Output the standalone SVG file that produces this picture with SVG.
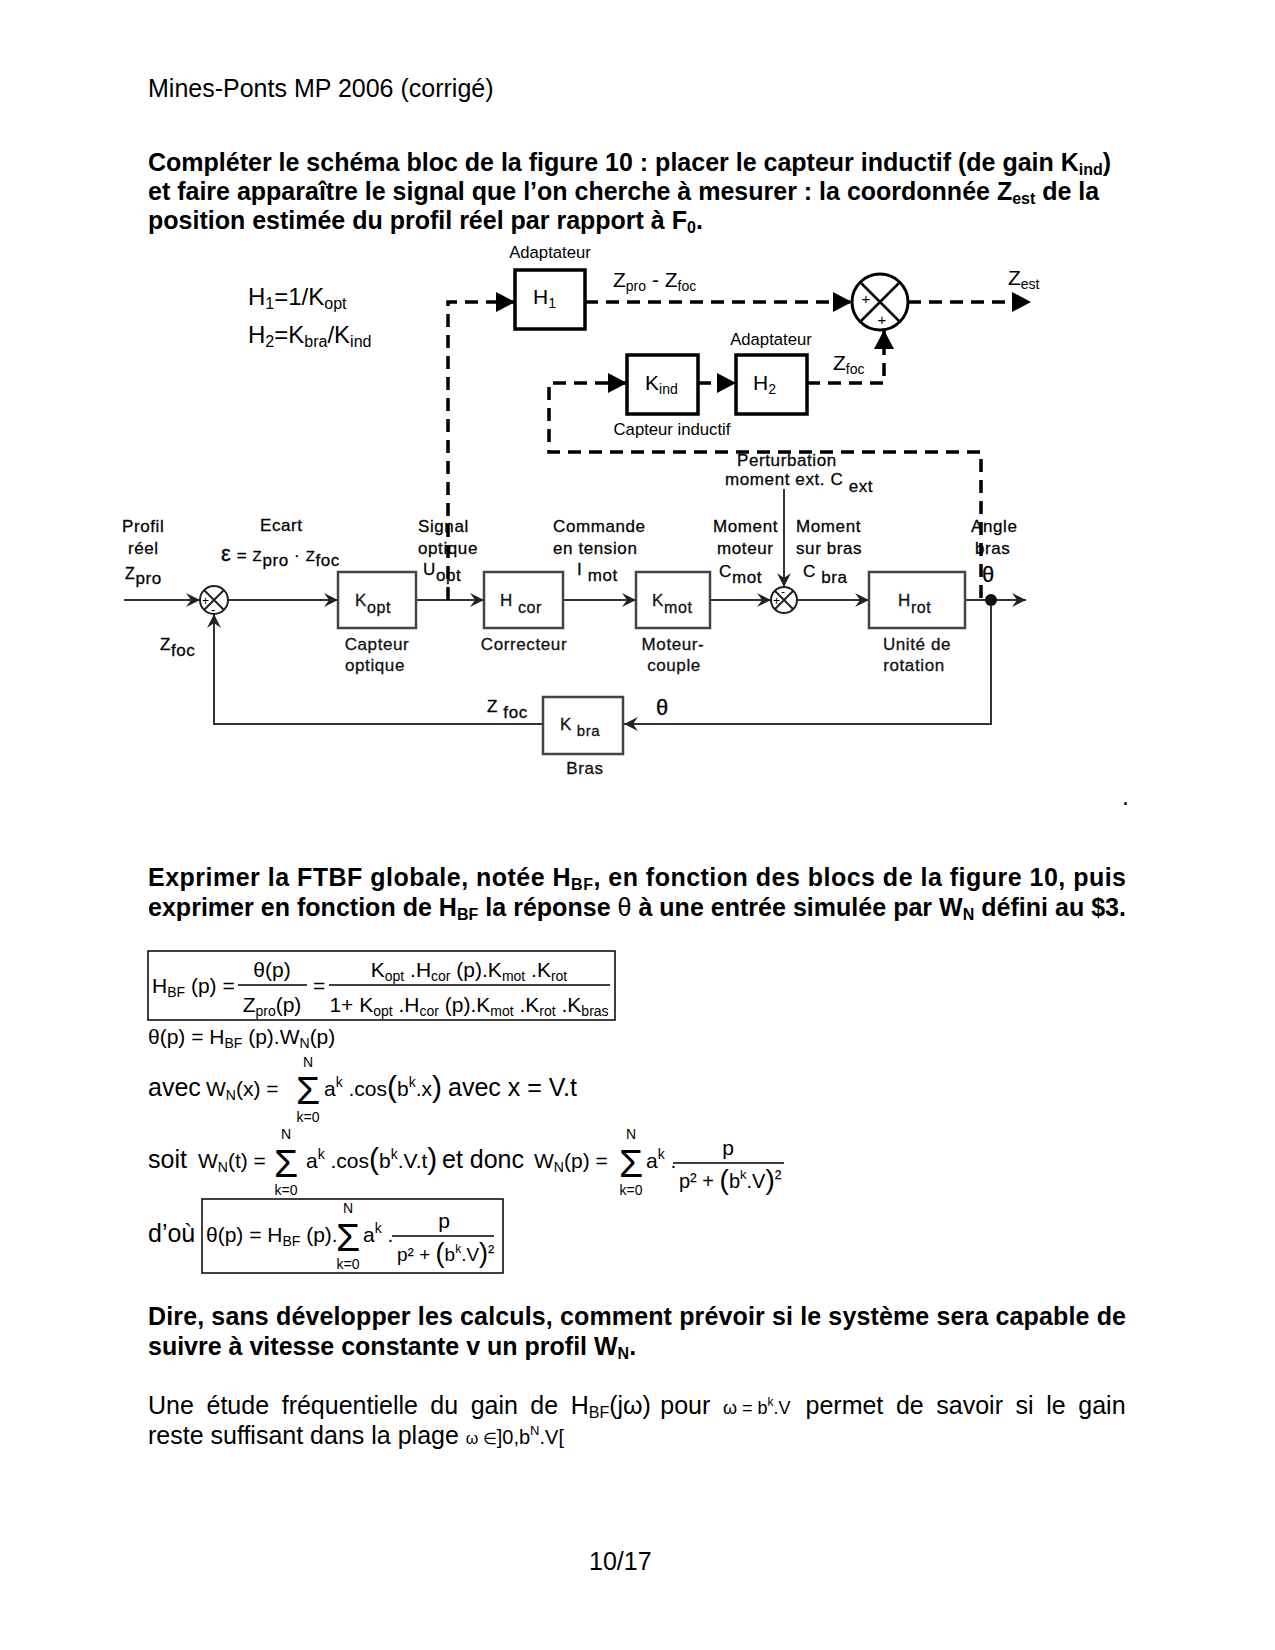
<svg xmlns="http://www.w3.org/2000/svg" width="1275" height="1650" viewBox="0 0 1275 1650">
<defs>
<style>
text { font-family: "Liberation Sans", Arial, sans-serif; fill:#000; }
.body { font-size:25px; }
.bold { font-size:25px; font-weight:bold; }
.m { font-size:21px; }
.s { font-size:14px; }
.lbl { font-size:16.7px; }
.big { font-size:24px; }
.old { font-size:17px; fill:#111; stroke:#111; stroke-width:0.3; letter-spacing:0.6px; }
.oldbox { fill:#fff; stroke:#444; stroke-width:2.5; }
.oldline { fill:none; stroke:#333; stroke-width:2; }
.newbox { fill:#fff; stroke:#000; stroke-width:3.5; }
.dash { fill:none; stroke:#000; stroke-width:3.5; stroke-dasharray:13 8; }
.frame { fill:none; stroke:#000; stroke-width:1.5; }
.rule { stroke:#000; stroke-width:1.3; }
.sig { font-size:39px; }
</style>
<marker id="aOld" markerUnits="userSpaceOnUse" markerWidth="16" markerHeight="16" refX="14" refY="7" orient="auto" overflow="visible"><path d="M0,0 L14,7 L0,14 L5,7 Z" fill="#222"/></marker>
<marker id="aNew" markerUnits="userSpaceOnUse" markerWidth="22" markerHeight="22" refX="19" refY="10" orient="auto" overflow="visible"><path d="M0,0 L19,10 L0,20 Z" fill="#000"/></marker>
</defs>
<rect x="0" y="0" width="1275" height="1650" fill="#fff"/>

<text class="body" x="148" y="97">Mines-Ponts MP 2006 (corrigé)</text>

<text class="bold" x="148" y="171">Compléter le schéma bloc de la figure 10 : placer le capteur inductif (de gain K<tspan font-size="16" dy="4">ind</tspan><tspan dy="-4">)</tspan></text>
<text class="bold" x="148" y="200">et faire apparaître le signal que l’on cherche à mesurer : la coordonnée Z<tspan font-size="16" dy="4">est</tspan><tspan dy="-4"> de la</tspan></text>
<text class="bold" x="148" y="229">position estimée du profil réel par rapport à F<tspan font-size="16" dy="4">0</tspan><tspan dy="-4">.</tspan></text>

<!-- definitions -->
<text class="big" x="248" y="305">H<tspan font-size="16" dy="4">1</tspan><tspan dy="-4">=1/K</tspan><tspan font-size="16" dy="4">opt</tspan></text>
<text class="big" x="248" y="343">H<tspan font-size="16" dy="4">2</tspan><tspan dy="-4">=K</tspan><tspan font-size="16" dy="4">bra</tspan><tspan dy="-4">/K</tspan><tspan font-size="16" dy="4">ind</tspan></text>

<!-- old diagram signal labels -->
<g id="signal-labels" class="old">
<text x="122" y="532">Profil</text>
<text x="128" y="554">réel</text>
<text x="125" y="579" font-size="16">Z<tspan font-size="17" dy="5">pro</tspan></text>
<text x="260" y="531">Ecart</text>
<text x="221" y="561"><tspan font-size="22">ε</tspan> = <tspan font-size="15">Z</tspan><tspan dy="5">pro</tspan><tspan dy="-5"> · </tspan><tspan font-size="15">Z</tspan><tspan dy="5">foc</tspan></text>
<text x="418" y="532">Signal</text>
<text x="418" y="554">optique</text>
<text x="423" y="575">U<tspan dy="6">opt</tspan></text>
<text x="553" y="532">Commande</text>
<text x="553" y="554">en tension</text>
<text x="577" y="575">I<tspan dy="6"> mot</tspan></text>
<text x="713" y="532">Moment</text>
<text x="717" y="554">moteur</text>
<text x="719" y="577">C<tspan dy="6">mot</tspan></text>
<text x="796" y="532">Moment</text>
<text x="796" y="554">sur bras</text>
<text x="803" y="577">C<tspan dy="6"> bra</tspan></text>
<text x="737" y="466">Perturbation</text>
<text x="725" y="485">moment ext. C<tspan dy="7"> ext</tspan></text>
<text x="971" y="532">Angle</text>
<text x="975" y="554">bras</text>
<text x="982" y="582" font-size="22">θ</text>
<text x="160" y="650">Z<tspan dy="6">foc</tspan></text>
<text x="487" y="712">Z<tspan dy="6"> foc</tspan></text>
<text x="656" y="715" font-size="22">θ</text>
</g>

<!-- connectors -->
<g id="connectors">
<path class="oldline" d="M124,600 L200,600" marker-end="url(#aOld)"/>
<path class="oldline" d="M228,600 L338,600" marker-end="url(#aOld)"/>
<path class="oldline" d="M416,600 L484,600" marker-end="url(#aOld)"/>
<path class="oldline" d="M563,600 L636,600" marker-end="url(#aOld)"/>
<path class="oldline" d="M710,600 L771,600" marker-end="url(#aOld)"/>
<path class="oldline" d="M784,489 L784,587" marker-end="url(#aOld)"/>
<path class="oldline" d="M797,600 L869,600" marker-end="url(#aOld)"/>
<path class="oldline" d="M965,600 L1026,600" marker-end="url(#aOld)"/>
<path class="oldline" d="M991,600 L991,724 L624,724" marker-end="url(#aOld)"/>
<path class="oldline" d="M543,724 L214,724 L214,614" marker-end="url(#aOld)"/>
<path class="dash" d="M448,600 L448,302 L515,302" marker-end="url(#aNew)"/>
<path class="dash" d="M585,302 L852,302" marker-end="url(#aNew)"/>
<path class="dash" d="M908,302 L1031,302" marker-end="url(#aNew)"/>
<path class="dash" d="M807,383 L884,383 L884,330" marker-end="url(#aNew)"/>
<path class="dash" d="M698,383 L736,383" marker-end="url(#aNew)"/>
<path class="dash" d="M981,598 L981,452 L549,452 L549,383 L627,383" marker-end="url(#aNew)"/>
</g>

<!-- old nodes -->
<g id="sum1">
<circle cx="214" cy="600" r="14" fill="#fff" stroke="#222" stroke-width="2"/>
<path d="M204,590 L224,610 M224,590 L204,610" stroke="#222" stroke-width="2"/>
<text x="202" y="605" font-size="12">+</text>
<text x="211" y="614" font-size="13">-</text>
</g>
<g id="kopt">
<rect class="oldbox" x="338" y="572" width="78" height="56"/>
<text class="old" x="355" y="606" font-size="18">K<tspan font-size="16" dy="7">opt</tspan></text>
<text class="old" x="377" y="650" text-anchor="middle">Capteur</text>
<text class="old" x="375" y="671" text-anchor="middle">optique</text>
</g>
<g id="hcor">
<rect class="oldbox" x="484" y="572" width="79" height="56"/>
<text class="old" x="500" y="606" font-size="18">H<tspan font-size="16" dy="7"> cor</tspan></text>
<text class="old" x="524" y="650" text-anchor="middle">Correcteur</text>
</g>
<g id="kmot">
<rect class="oldbox" x="636" y="572" width="74" height="56"/>
<text class="old" x="652" y="606" font-size="18">K<tspan font-size="16" dy="7">mot</tspan></text>
<text class="old" x="673" y="650" text-anchor="middle">Moteur-</text>
<text class="old" x="674" y="671" text-anchor="middle">couple</text>
</g>
<g id="sum2">
<circle cx="784" cy="600" r="13" fill="#fff" stroke="#222" stroke-width="2"/>
<path d="M775,591 L793,609 M793,591 L775,609" stroke="#222" stroke-width="2"/>
<text x="781" y="596" font-size="12">-</text>
<text x="773" y="605" font-size="12">+</text>
</g>
<g id="hrot">
<rect class="oldbox" x="869" y="572" width="96" height="56"/>
<text class="old" x="898" y="606" font-size="18">H<tspan font-size="16" dy="7">rot</tspan></text>
<text class="old" x="917" y="650" text-anchor="middle">Unité de</text>
<text class="old" x="914" y="671" text-anchor="middle">rotation</text>
</g>
<g id="junction">
<circle cx="991" cy="600" r="6" fill="#111"/>
</g>
<g id="kbra">
<rect class="oldbox" x="543" y="697" width="80" height="57"/>
<text class="old" x="560" y="730" font-size="18">K<tspan font-size="15" dy="6"> bra</tspan></text>
<text class="old" x="585" y="774" text-anchor="middle">Bras</text>
</g>

<!-- new nodes -->
<g id="h1">
<rect class="newbox" x="515" y="270" width="70" height="59"/>
<text class="m" x="533" y="304">H<tspan class="s" dy="4">1</tspan></text>
<text class="lbl" x="550" y="258" text-anchor="middle">Adaptateur</text>
</g>
<g id="kind">
<rect class="newbox" x="627" y="355" width="71" height="59"/>
<text class="m" x="645" y="390">K<tspan class="s" dy="4">ind</tspan></text>
<text class="lbl" x="672" y="435" text-anchor="middle">Capteur inductif</text>
</g>
<g id="h2">
<rect class="newbox" x="736" y="355" width="71" height="59"/>
<text class="m" x="753" y="390">H<tspan class="s" dy="4">2</tspan></text>
<text class="lbl" x="771" y="345" text-anchor="middle">Adaptateur</text>
</g>
<g id="sum3">
<circle cx="880" cy="302" r="28" fill="#fff" stroke="#000" stroke-width="3"/>
<path d="M860,282 L900,322 M900,282 L860,322" stroke="#000" stroke-width="2.5"/>
<text x="866" y="304" font-size="15" text-anchor="middle">+</text>
<text x="882" y="325" font-size="15" text-anchor="middle">+</text>
</g>
<g id="new-labels">
<text class="m" x="613" y="287">Z<tspan class="s" dy="4">pro</tspan><tspan dy="-4"> - Z</tspan><tspan class="s" dy="4">foc</tspan></text>
<text class="m" x="1008" y="285">Z<tspan class="s" dy="4">est</tspan></text>
<text class="m" x="833" y="370">Z<tspan class="s" dy="4">foc</tspan></text>
</g>

<text class="body" x="1122" y="805">.</text>

<!-- Section 2 -->
<text class="bold" x="148" y="886" textLength="978" lengthAdjust="spacing">Exprimer la FTBF globale, notée H<tspan font-size="16" dy="4">BF</tspan><tspan dy="-4">, en fonction des blocs de la figure 10, puis</tspan></text>
<text class="bold" x="148" y="916" textLength="978" lengthAdjust="spacing">exprimer en fonction de H<tspan font-size="16" dy="4">BF</tspan><tspan dy="-4"> la réponse </tspan><tspan font-weight="normal">θ</tspan> à une entrée simulée par W<tspan font-size="16" dy="4">N</tspan><tspan dy="-4"> défini au $3.</tspan></text>

<g id="formula-hbf">
<rect class="frame" x="148" y="951" width="467" height="69"/>
<text class="m" x="152" y="993">H<tspan class="s" dy="4">BF</tspan><tspan dy="-4"> (p) =</tspan></text>
<text class="m" x="272" y="977" text-anchor="middle">θ(p)</text>
<line class="rule" x1="238" y1="985" x2="307" y2="985"/>
<text class="m" x="272" y="1012" text-anchor="middle">Z<tspan class="s" dy="4">pro</tspan><tspan dy="-4">(p)</tspan></text>
<text class="m" x="313" y="993">=</text>
<text class="m" x="469" y="977" text-anchor="middle">K<tspan class="s" dy="4">opt</tspan><tspan dy="-4"> .H</tspan><tspan class="s" dy="4">cor</tspan><tspan dy="-4"> (p).K</tspan><tspan class="s" dy="4">mot</tspan><tspan dy="-4"> .K</tspan><tspan class="s" dy="4">rot</tspan></text>
<line class="rule" x1="329" y1="985" x2="610" y2="985"/>
<text class="m" x="469" y="1012" text-anchor="middle">1+ K<tspan class="s" dy="4">opt</tspan><tspan dy="-4"> .H</tspan><tspan class="s" dy="4">cor</tspan><tspan dy="-4"> (p).K</tspan><tspan class="s" dy="4">mot</tspan><tspan dy="-4"> .K</tspan><tspan class="s" dy="4">rot</tspan><tspan dy="-4"> .K</tspan><tspan class="s" dy="4">bras</tspan></text>
</g>
<text class="m" x="148" y="1044">θ(p) = H<tspan class="s" dy="4">BF</tspan><tspan dy="-4"> (p).W</tspan><tspan class="s" dy="4">N</tspan><tspan dy="-4">(p)</tspan></text>

<!-- avec line -->
<g id="formula-avec">
<text class="body" x="148" y="1096">avec</text>
<text class="m" x="206" y="1096">W<tspan class="s" dy="4">N</tspan><tspan dy="-4">(x) =</tspan></text>
<text class="sig" x="308" y="1104" text-anchor="middle">Σ</text>
<text class="s" x="308" y="1067" text-anchor="middle">N</text>
<text class="s" x="308" y="1122" text-anchor="middle">k=0</text>
<text class="m" x="324" y="1096">a<tspan class="s" dy="-9">k</tspan><tspan dy="9"> .cos</tspan><tspan font-size="30" dy="1">(</tspan><tspan dy="-1">b</tspan><tspan class="s" dy="-9">k</tspan><tspan dy="9">.x</tspan><tspan font-size="30" dy="1">)</tspan></text>
<text class="body" x="448" y="1096">avec x = V.t</text>
</g>

<!-- soit line -->
<g id="formula-soit">
<text class="body" x="148" y="1168">soit</text>
<text class="m" x="198" y="1168">W<tspan class="s" dy="4">N</tspan><tspan dy="-4">(t) =</tspan></text>
<text class="sig" x="286" y="1177" text-anchor="middle">Σ</text>
<text class="s" x="286" y="1139" text-anchor="middle">N</text>
<text class="s" x="286" y="1195" text-anchor="middle">k=0</text>
<text class="m" x="306" y="1168">a<tspan class="s" dy="-9">k</tspan><tspan dy="9"> .cos</tspan><tspan font-size="30" dy="1">(</tspan><tspan dy="-1">b</tspan><tspan class="s" dy="-9">k</tspan><tspan dy="9">.V.t</tspan><tspan font-size="30" dy="1">)</tspan></text>
<text class="body" x="442" y="1168">et donc</text>
<text class="m" x="534" y="1168">W<tspan class="s" dy="4">N</tspan><tspan dy="-4">(p) =</tspan></text>
<text class="sig" x="631" y="1177" text-anchor="middle">Σ</text>
<text class="s" x="631" y="1139" text-anchor="middle">N</text>
<text class="s" x="631" y="1195" text-anchor="middle">k=0</text>
<text class="m" x="646" y="1168">a<tspan class="s" dy="-9">k</tspan><tspan dy="9"> .</tspan></text>
<text class="m" x="728" y="1155" text-anchor="middle">p</text>
<line class="rule" x1="673" y1="1163" x2="784" y2="1163"/>
<text x="679" y="1188" font-size="20">p² + <tspan font-size="28" dy="1">(</tspan><tspan dy="-1">b</tspan><tspan font-size="13" dy="-9">k</tspan><tspan dy="9">.V</tspan><tspan font-size="28" dy="1">)</tspan><tspan dy="-4">²</tspan></text>
</g>

<!-- d'où line -->
<g id="formula-dou">
<text class="body" x="148" y="1242">d’où</text>
<rect class="frame" x="202" y="1199" width="301" height="74"/>
<text class="m" x="206" y="1242">θ(p) = H<tspan class="s" dy="4">BF</tspan><tspan dy="-4"> (p).</tspan></text>
<text class="sig" x="348" y="1251" text-anchor="middle">Σ</text>
<text class="s" x="348" y="1213" text-anchor="middle">N</text>
<text class="s" x="348" y="1269" text-anchor="middle">k=0</text>
<text class="m" x="363" y="1242">a<tspan class="s" dy="-9">k</tspan><tspan dy="9"> .</tspan></text>
<text class="m" x="444" y="1228" text-anchor="middle">p</text>
<line class="rule" x1="392" y1="1236" x2="494" y2="1236"/>
<text x="397" y="1261" font-size="19">p² + <tspan font-size="27" dy="1">(</tspan><tspan dy="-1">b</tspan><tspan font-size="12" dy="-8">k</tspan><tspan dy="8">.V</tspan><tspan font-size="27" dy="1">)</tspan><tspan dy="-4">²</tspan></text>
</g>

<!-- Section 3 -->
<text class="bold" x="148" y="1325" textLength="978" lengthAdjust="spacing">Dire, sans développer les calculs, comment prévoir si le système sera capable de</text>
<text class="bold" x="148" y="1355">suivre à vitesse constante v un profil W<tspan font-size="16" dy="4">N</tspan><tspan dy="-4">.</tspan></text>

<text class="body" y="1414"><tspan x="148">Une</tspan><tspan x="206.5">étude</tspan><tspan x="281.7">fréquentielle</tspan><tspan x="430.3">du</tspan><tspan x="470.7">gain</tspan><tspan x="530.3">de</tspan><tspan x="570.7">H</tspan><tspan font-size="16" dy="4">BF</tspan><tspan dy="-4">(jω)</tspan><tspan x="660.3">pour</tspan><tspan x="722.9" font-size="18">ω = b</tspan><tspan font-size="12" dy="-8">k</tspan><tspan font-size="18" dy="8">.V</tspan><tspan x="805.5">permet</tspan><tspan x="895.9">de</tspan><tspan x="936.3">savoir</tspan><tspan x="1015.6">si</tspan><tspan x="1046.2">le</tspan><tspan x="1078.3">gain</tspan></text>
<text class="body" x="148" y="1444">reste suffisant dans la plage <tspan font-size="16">ω ∈</tspan><tspan font-size="20">]0,b</tspan><tspan font-size="13" dy="-9">N</tspan><tspan font-size="20" dy="9">.V[</tspan></text>

<text class="body" x="589" y="1570">10/17</text>
</svg>
